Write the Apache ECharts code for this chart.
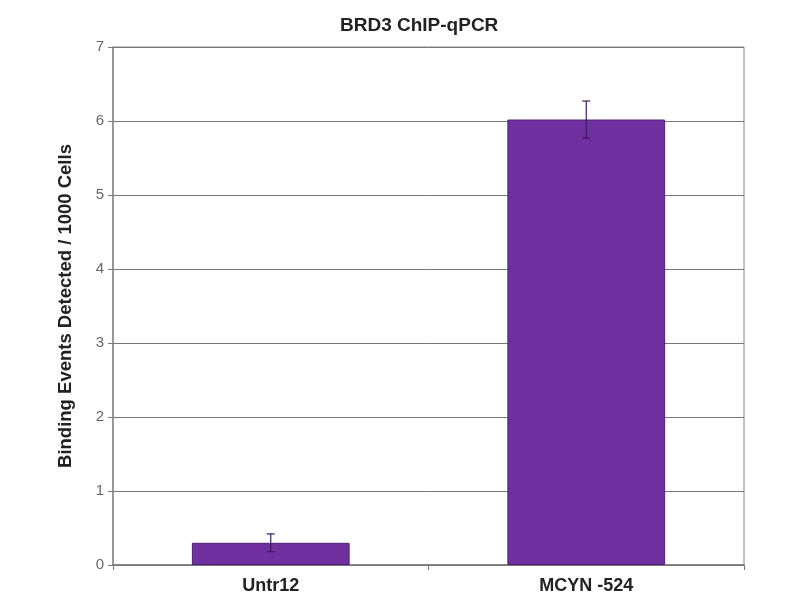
<!DOCTYPE html>
<html><head><meta charset="utf-8">
<script src="https://cdn.jsdelivr.net/npm/echarts@6/dist/echarts.min.js"></script>
<style>html,body{margin:0;padding:0;background:#fff}#c{width:800px;height:600px}</style>
</head><body><div id="c"></div>
<script>
const categories = ['Untr12', 'MCYN -524'];
const values = [0.30, 6.02];
const errors = [0.12, 0.25];
const yTicks = [0, 1, 2, 3, 4, 5, 6, 7];

const chart = echarts.init(document.getElementById('c'));
const errData = categories.map((c, i) => [i, values[i] - errors[i], values[i] + errors[i]]);
chart.setOption({
  animation: false,
  backgroundColor: '#fff',
  title: {
    text: 'BRD3 ChIP-qPCR', left: 335, top: 11,
    textStyle: { fontFamily: 'Liberation Sans, Arial', fontWeight: 'bold', fontSize: 19, color: '#222' }
  },
  grid: { left: 113, right: 56, top: 47, bottom: 35, show: true, borderColor: '#888', borderWidth: 1 },
  xAxis: {
    type: 'category', data: categories,
    axisLine: { lineStyle: { color: '#777', width: 1.5 } },
    axisTick: { show: true, length: 5, lineStyle: { color: '#777' } },
    axisLabel: { fontFamily: 'Liberation Sans, Arial', fontWeight: 'bold', fontSize: 18, color: '#222', margin: 12 }
  },
  yAxis: {
    type: 'value', min: yTicks[0], max: yTicks[yTicks.length - 1], interval: 1,
    name: 'Binding Events Detected / 1000 Cells', nameLocation: 'middle', nameGap: 38,
    nameTextStyle: { fontFamily: 'Liberation Sans, Arial', fontWeight: 'bold', fontSize: 18.5, color: '#222' },
    axisLine: { show: true, lineStyle: { color: '#888', width: 1.5 } },
    axisTick: { show: true, length: 5, lineStyle: { color: '#777' } },
    axisLabel: { fontFamily: 'Liberation Sans, Arial', fontSize: 15, color: '#666', margin: 9 },
    splitLine: { lineStyle: { color: '#777', width: 1 } }
  },
  series: [
    {
      type: 'bar', data: values, barWidth: '50%',
      itemStyle: { color: '#7030A0', borderColor: '#4f1f75', borderWidth: 1 }
    },
    {
      type: 'custom', data: errData, z: 10,
      renderItem: function (params, api) {
        const x = api.value(0);
        const lo = api.coord([x, api.value(1)]);
        const hi = api.coord([x, api.value(2)]);
        const hw = 4;
        const style = { stroke: '#3a1860', lineWidth: 1.2 };
        return {
          type: 'group', children: [
            { type: 'line', shape: { x1: hi[0], y1: hi[1], x2: lo[0], y2: lo[1] }, style: style },
            { type: 'line', shape: { x1: hi[0] - hw, y1: hi[1], x2: hi[0] + hw, y2: hi[1] }, style: style },
            { type: 'line', shape: { x1: lo[0] - hw, y1: lo[1], x2: lo[0] + hw, y2: lo[1] }, style: style }
          ]
        };
      }
    }
  ]
});
</script></body></html>
